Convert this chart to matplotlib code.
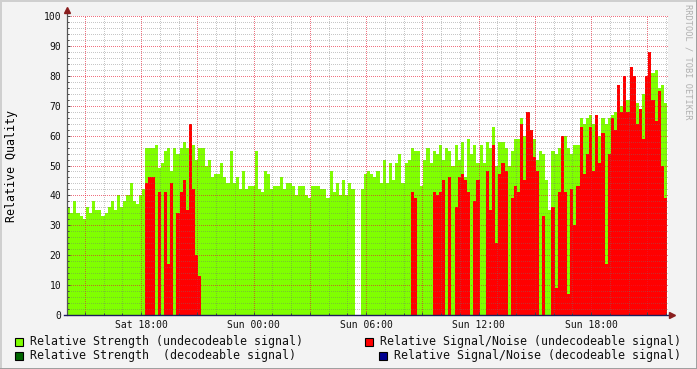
import matplotlib
matplotlib.use("Agg")
import matplotlib.pyplot as plt
import numpy as np
from matplotlib.patches import Rectangle
from matplotlib.lines import Line2D

# 10 minute samples, starting just after Sat 14:00 (hour 0 = Sat 14:00)
t_start = 0.053
step = 1 / 6.0

# relative strength (undecodeable signal), green area
strength = [36, 34, 38, 34, 33, 32, 36, 34, 38, 35, 35, 33, 34, 36, 38, 35, 40, 36, 38, 40,
            44, 38, 37, 40, 42,
            56, 56, 56, 57, 49, 51, 55, 56, 48, 56, 54, 56, 58, 56, 60, 57, 52, 56, 56, 50,
            52, 46, 47,
            47, 51, 46, 44, 55, 44, 46, 42, 48, 42, 43, 43, 55, 42, 41, 48, 47, 42, 43, 43,
            46, 42, 44, 44, 43, 40, 43, 43, 40, 39, 43, 43, 43, 42, 42, 39, 48, 41, 44, 40,
            45, 40, 44, 42,
            np.nan, np.nan,
            42, 47, 48, 47, 46, 48, 44, 52, 44, 51, 45, 51, 54, 44, 51, 52, 56, 55, 55, 43,
            52, 56, 51, 55, 54, 57, 52, 56, 55, 50, 57, 52, 58, 46, 59, 54, 57, 51, 57, 51,
            58, 56, 63, 50, 58, 58, 56, 50, 55, 59,
            59, 66, 60, 60, 62, 59, 52, 55, 54, 45, 35, 55, 54, 56, 56, 60, 56, 54, 57, 57,
            66, 64, 66, 67, 64, 67, 60, 66, 64, 66, 67, 68, 70, 70, 68, 72, 74, 69, 71, 67,
            74, 69, 76, 81, 82, 76, 77, 71]

# relative signal/noise (undecodeable signal), red area
snr = [0] * 25 + \
      [44, 46, 46, 0, 41, 0, 41, 17, 44, 0, 34, 41, 45, 35, 64, 42, 20, 13, 0, 0, 0, 0, 0] + \
      [0] * 62 + \
      [41, 39, 0, 0, 0, 0, 0, 41, 40, 41, 45, 0, 46, 0, 36, 46, 47, 45, 41, 0,
       38, 45, 0, 0, 48, 35, 57, 24, 47, 51, 48, 0, 39, 43] + \
      [41, 64, 45, 68, 62, 53, 48, 0, 33, 0, 0, 36, 9, 41, 60, 41, 7, 42, 30, 43,
       63, 47, 54, 63, 48, 67, 51, 61, 17, 54, 66, 62, 77, 68, 80, 68, 83, 80, 64, 69,
       59, 80, 88, 72, 65, 75, 50, 39]

x_ticks = [4, 10, 16, 22, 28]
x_labels = ["Sat 18:00", "Sun 00:00", "Sun 06:00", "Sun 12:00", "Sun 18:00"]

legend_items = [
    ("Relative Strength (undecodeable signal)", "#80ff00"),
    ("Relative Strength  (decodeable signal)", "#006600"),
    ("Relative Signal/Noise (undecodeable signal)", "#ff0000"),
    ("Relative Signal/Noise (decodeable signal)", "#000090"),
]

W, H = 697, 369
mono = "DejaVu Sans Mono"

fig = plt.figure(figsize=(W / 100, H / 100), dpi=100, facecolor="#f3f3f3")


def px(x, y):
    return x / W, 1 - y / H


ax = fig.add_axes([67 / W, (H - 315) / H, (668 - 67) / W, (315 - 16) / H])
ax.set_facecolor("white")

times = t_start + np.arange(len(strength)) * step
ax.bar(times, strength, width=step, align="edge", color="#80ff00", linewidth=0,
       antialiased=False, zorder=1)
ax.bar(times, snr, width=step, align="edge", color="#ff0000", linewidth=0,
       antialiased=False, zorder=1.2)

ax.set_xlim(0.053, 32.1)
ax.set_ylim(0, 100)

ax.set_xticks(np.arange(1, 32, 3))
ax.set_xticklabels([x_labels[x_ticks.index(t)] if t in x_ticks else "" for t in np.arange(1, 32, 3)])
ax.set_xticks(np.arange(1, 33, 1), minor=True)
ax.set_yticks(np.arange(0, 101, 10))
ax.set_yticks(np.arange(0, 101, 2), minor=True)

# dotted grid drawn over the data, as rrdtool does (1px on / 1px off)
# grid.alpha overrides the colour alpha, so pass alpha separately
ax.set_axisbelow(False)
ax.grid(which="minor", color=(0.45, 0.45, 0.45), alpha=0.4, linestyle=(0.5, (1, 1)),
        linewidth=0.72)
ax.grid(which="major", color=(0.9, 0.1, 0.2), alpha=0.62, linestyle=(0.5, (1, 1)),
        linewidth=0.72)

for s in ax.spines.values():
    s.set_visible(False)

ax.tick_params(axis="both", which="both", direction="in", color="#444444", width=0.7)
ax.tick_params(axis="both", which="major", length=2.5)
ax.tick_params(axis="both", which="minor", length=1.2)
ax.tick_params(axis="y", pad=4.2)
ax.tick_params(axis="x", pad=3.5)
for lab in ax.get_xticklabels() + ax.get_yticklabels():
    lab.set_fontfamily(mono)
    lab.set_fontsize(7)
    lab.set_color("#111111")

ax.set_ylabel("Relative Quality", fontfamily=mono, fontsize=8.4)
ax.yaxis.set_label_coords(-49 / (668 - 67), 0.5)

# axes with arrows like rrdtool
fig.add_artist(Line2D([px(67, 315)[0], px(67, 9)[0]], [px(67, 315)[1], px(67, 9)[1]],
                      color="#555555", lw=0.9))
fig.add_artist(Line2D([px(64, 315)[0], px(670, 315)[0]], [px(64, 315)[1], px(670, 315)[1]],
                      color="#1c1c5a", lw=1.0))
fig.add_artist(Line2D([px(67, 10)[0]], [px(67, 10)[1]], marker="^", markersize=5,
                      color="#8a1f1f", lw=0))
fig.add_artist(Line2D([px(672, 315)[0]], [px(672, 315)[1]], marker=">", markersize=5,
                      color="#8a1f1f", lw=0))

# legend
legend_pos = [(15, 341), (15, 355), (365, 341), (379, 355)]
for (label, col), (lx, ly) in zip(legend_items, legend_pos):
    fig.add_artist(Rectangle(px(lx, ly + 4.5), 8 / W, 8 / H, facecolor=col,
                             edgecolor="black", linewidth=0.8))
    fig.text(*px(lx + 15, ly), label, fontfamily=mono, fontsize=8.4,
             va="center", ha="left", color="#111111")

fig.text(*px(688, 4), "RRDTOOL / TOBI OETIKER", fontfamily=mono, fontsize=6.2,
         rotation=270, va="top", ha="center", color="#b0b0b0")

# frame shading
fig.add_artist(Line2D([0, 1], [1 - 0.5 / H] * 2, color="#cfcfcf", lw=1.4))
fig.add_artist(Line2D([0.5 / W] * 2, [0, 1], color="#cfcfcf", lw=1.4))
fig.add_artist(Line2D([0, 1], [0.5 / H] * 2, color="#9e9e9e", lw=1.4))
fig.add_artist(Line2D([1 - 0.5 / W] * 2, [0, 1], color="#9e9e9e", lw=1.4))

fig.savefig("out.png", dpi=100, facecolor=fig.get_facecolor())
